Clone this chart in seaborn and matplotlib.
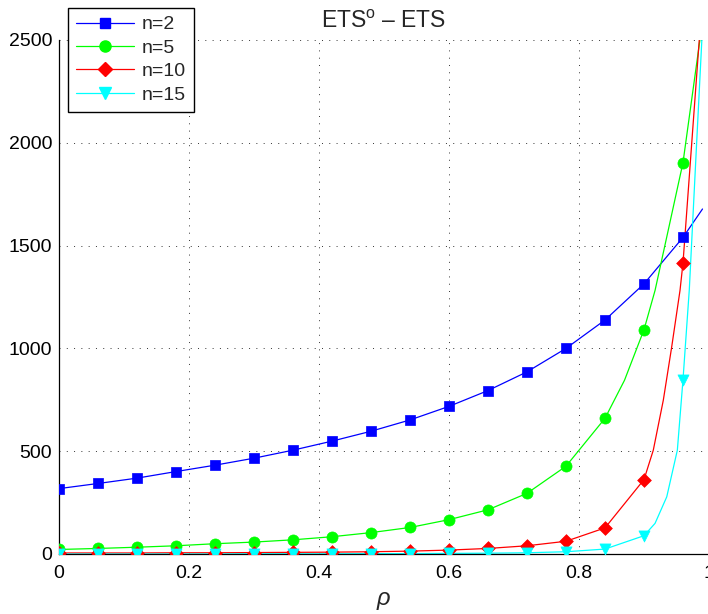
import numpy as np
import pandas as pd
import seaborn as sns
from matplotlib import pyplot as plt
from matplotlib.lines import Line2D
from matplotlib.ticker import FuncFormatter

# marker positions (rho) and values
rho = [0, 0.06, 0.12, 0.18, 0.24, 0.30, 0.36, 0.42, 0.48,
       0.54, 0.60, 0.66, 0.72, 0.78, 0.84, 0.90, 0.96]
ets_n2 = [318, 343, 369, 401, 432, 466, 505, 549, 597,
          652, 718, 795, 886, 1000, 1138, 1314, 1540]
ets_n5 = [22, 27, 33, 40, 50, 58, 69, 84, 104,
          129, 167, 215, 295, 427, 660, 1091, 1904]
ets_n10 = [5, 5, 5, 6, 6, 7, 8, 9, 11,
           14, 19, 27, 40, 62, 127, 362, 1416]
ets_n15 = [0, 0, 0, 0, 0, 1, 1, 1, 2,
           2, 3, 4, 6, 11, 24, 89, 848]

# extra points on the curves between / after the markers (steep tails)
tail_rho_n2 = [0.99]
tail_n2 = [1678]
tail_rho_n5 = [0.87, 0.917, 0.9375, 0.986]
tail_n5 = [845, 1282, 1578, 2500]
tail_rho_n10 = [0.9143, 0.9297, 0.9426, 0.9554, 0.985]
tail_n10 = [505, 748, 1007, 1282, 2500]
tail_rho_n15 = [0.917, 0.935, 0.9513, 0.9697, 0.981, 0.989]
tail_n15 = [149, 278, 505, 1286, 2000, 2500]

labels = ['n=2', 'n=5', 'n=10', 'n=15']
colors = ['#0000ff', '#00ff00', '#ff0000', '#00ffff']
markers = ['s', 'o', 'D', 'v']
msizes = [7.5, 8, 7, 8]

series = [(ets_n2, tail_rho_n2, tail_n2),
          (ets_n5, tail_rho_n5, tail_n5),
          (ets_n10, tail_rho_n10, tail_n10),
          (ets_n15, tail_rho_n15, tail_n15)]

sns.set_style('white')
plt.rcParams['font.family'] = ['Liberation Sans', 'DejaVu Sans']
plt.rcParams['mathtext.fontset'] = 'custom'
plt.rcParams['mathtext.rm'] = 'Liberation Sans'
plt.rcParams['mathtext.it'] = 'Liberation Sans:italic'

fig = plt.figure(figsize=(7.08, 6.14), dpi=100)
ax = fig.add_axes([59 / 708, 1 - 554 / 614, 650 / 708, 514 / 614])

handles = []
for (vals, t_rho, t_vals), lab, c, m, ms in zip(series, labels, colors, markers, msizes):
    line_df = pd.DataFrame({'rho': rho + t_rho, 'ets': vals + t_vals}).sort_values('rho')
    sns.lineplot(data=line_df, x='rho', y='ets', color=c, lw=0.9, ax=ax, legend=False)
    mk_df = pd.DataFrame({'rho': rho, 'ets': vals})
    sns.scatterplot(data=mk_df, x='rho', y='ets', color=c, marker=m, s=ms ** 2,
                    edgecolor=c, linewidth=0.5, ax=ax, legend=False, zorder=3)
    handles.append(Line2D([], [], color=c, lw=0.9, marker=m, markersize=ms,
                          markerfacecolor=c, markeredgecolor=c, label=lab))

ax.set_xlim(0, 1)
ax.set_ylim(0, 2500)
ax.set_xticks([0, 0.2, 0.4, 0.6, 0.8, 1])
ax.set_yticks([0, 500, 1000, 1500, 2000, 2500])
ax.xaxis.set_major_formatter(FuncFormatter(lambda v, p: '%g' % v))
ax.tick_params(direction='in', length=5, width=0.8, labelsize=14, colors='black')
ax.tick_params(axis='x', pad=8)
ax.tick_params(axis='y', pad=5)
ax.grid(True, color='black', linestyle=(0, (1, 6.5)), linewidth=0.7, alpha=0.8)

for side in ['top', 'right']:
    ax.spines[side].set_visible(False)
for side in ['left', 'bottom']:
    ax.spines[side].set_color('black')
    ax.spines[side].set_linewidth(0.9)

ax.set_title(r'ETS$^{\mathrm{o}}$ – ETS', fontsize=16.5, pad=9)
ax.set_xlabel(r'$\rho$', fontsize=17, labelpad=6)
ax.set_ylabel('')

leg = ax.legend(handles=handles, loc='upper left', bbox_to_anchor=(68 / 708, 1 - 8 / 614),
                bbox_transform=fig.transFigure, borderaxespad=0, fontsize=14,
                handlelength=3.0, handletextpad=0.4, labelspacing=0.3, borderpad=0.4,
                fancybox=False, framealpha=1, edgecolor='black')
leg.get_frame().set_linewidth(1.0)

fig.savefig('out.png', dpi=100)
